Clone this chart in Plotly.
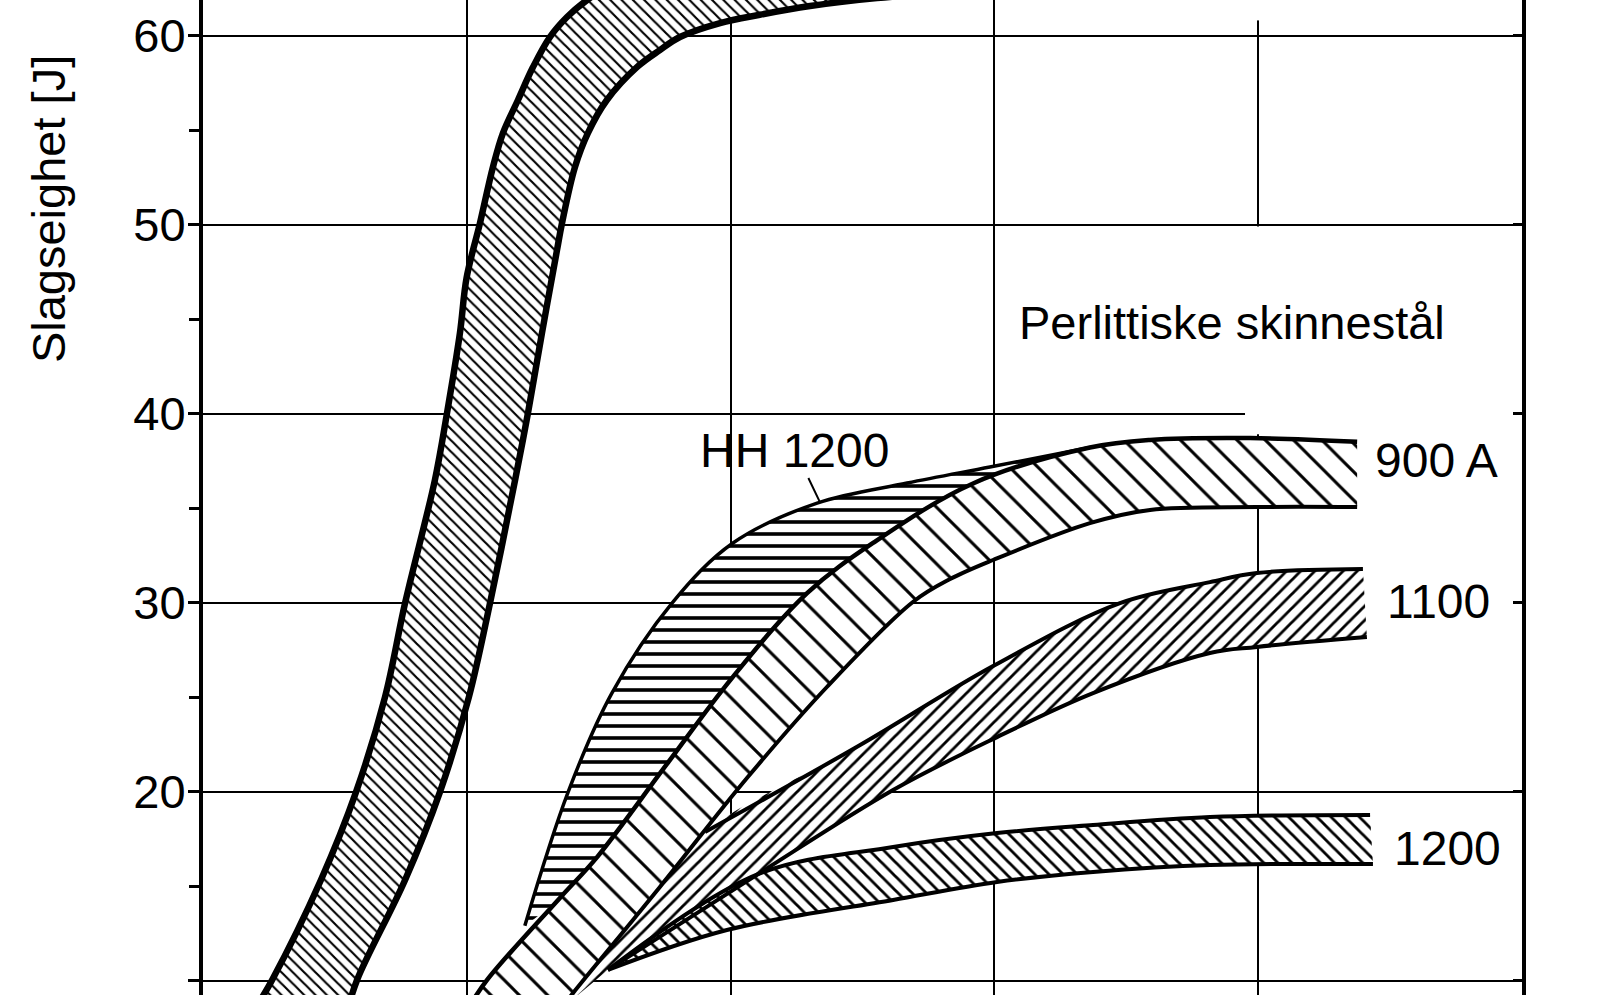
import numpy as np
import plotly.graph_objects as go

# x = position in grid divisions (the temperature axis is cut off in the source),
# y = Slagseighet [J]

# wide band on the left (label outside the crop)
main_left_x = [0.190, 0.262, 0.447, 0.580, 0.690, 0.766, 0.879, 0.925, 0.974, 0.999, 1.050, 1.099, 1.137, 1.194, 1.251, 1.315, 1.380, 1.456, 1.562, 1.732]
main_left_y = [8.33, 10.03, 15.32, 19.97, 25.0, 29.97, 36.48, 40.03, 44.26, 47.17, 50.08, 53.04, 54.84, 56.59, 58.33, 59.92, 60.98, 61.88, 62.78, 63.73]
main_right_x = [0.546, 0.584, 0.766, 0.898, 1.008, 1.088, 1.183, 1.232, 1.285, 1.342, 1.361, 1.410, 1.459, 1.531, 1.645, 1.732, 1.808, 1.960, 2.111, 2.301, 2.555, 2.870, 3.211]
main_right_y = [8.33, 10.03, 15.32, 19.97, 25.0, 29.97, 36.48, 40.03, 44.26, 48.65, 50.08, 53.04, 54.84, 56.59, 58.33, 59.23, 59.92, 60.66, 61.1, 61.56, 61.98, 62.3, 62.5]

# 900 A
a900_up_x = [1.001, 1.077, 1.353, 1.494, 1.759, 2.005, 2.290, 2.540, 2.919, 3.362, 3.590, 3.969, 4.375]
a900_up_y = [8.44, 10.03, 14.37, 16.53, 21.46, 26.0, 30.5, 33.15, 36.3, 38.2, 38.6, 38.7, 38.5]
a900_lo_x = [1.353, 1.403, 1.732, 2.062, 2.365, 2.691, 2.832, 2.995, 3.362, 3.590, 3.995, 4.375]
a900_lo_y = [8.44, 9.34, 14.95, 20.71, 25.53, 30.03, 31.24, 32.25, 34.2, 34.9, 35.05, 35.05]

# HH 1200 (lower edge runs along the 900 A upper edge)
hh_up_x = [1.220, 1.384, 1.550, 1.778, 2.009, 2.328, 2.669, 2.983, 3.362]
hh_up_y = [12.9, 19.97, 25.21, 29.97, 33.15, 35.26, 36.32, 37.17, 38.2]

# 1100 (upper edge follows 900 A lower edge until it splits off)
b1100_up_x = [1.903, 2.491, 2.995, 3.476, 3.817, 3.995, 4.397]
b1100_up_y = [17.86, 22.46, 26.64, 29.97, 31.08, 31.56, 31.77]
b1100_lo_x = [1.535, 2.104, 2.616, 3.010, 3.374, 3.817, 3.995, 4.412]
b1100_lo_y = [10.56, 15.63, 20.08, 22.88, 25.21, 27.33, 27.65, 28.17]

# 1200
c1200_up_x = [1.535, 2.104, 2.616, 3.010, 3.374, 3.817, 4.424]
c1200_up_y = [10.56, 15.63, 17.06, 17.80, 18.23, 18.65, 18.76]
c1200_lo_x = [1.535, 1.986, 2.616, 3.010, 3.374, 3.817, 4.435]
c1200_lo_y = [10.56, 12.67, 14.26, 15.21, 15.74, 16.11, 16.16]

FONT = "Liberation Sans, Arial, Helvetica, sans-serif"

fig = go.Figure()


def band(x_lo, y_lo, x_up, y_up, shape, size, solidity):
    # lower edge (invisible) then upper edge filled down to it
    fig.add_trace(go.Scatter(x=x_lo, y=y_lo, mode="lines",
                             line=dict(width=0, shape="spline", color="black"),
                             hoverinfo="skip", showlegend=False))
    fig.add_trace(go.Scatter(x=x_up, y=y_up, mode="lines", fill="tonexty",
                             fillcolor="white",
                             fillpattern=dict(shape=shape, size=size, solidity=solidity,
                                              fgcolor="black", bgcolor="white", fgopacity=1),
                             line=dict(width=0, shape="spline", color="black"),
                             hoverinfo="skip", showlegend=False))


def edge(x, y, w):
    fig.add_trace(go.Scatter(x=x, y=y, mode="lines",
                             line=dict(width=w, shape="spline", color="black"),
                             hoverinfo="skip", showlegend=False))


# lower edge of the HH band = piece of the 900 A upper edge
a_up_x = np.array(a900_up_x)
a_up_y = np.array(a900_up_y)
m = (a_up_x > hh_up_x[0]) & (a_up_x < hh_up_x[-1])
hh_lo_x = [hh_up_x[0]] + list(a_up_x[m]) + [hh_up_x[-1]]
hh_lo_y = [hh_up_y[0]] + list(a_up_y[m]) + [hh_up_y[-1]]

# full upper edge of the 1100 band
a_lo_x = np.array(a900_lo_x)
a_lo_y = np.array(a900_lo_y)
k = a_lo_x < b1100_up_x[0]
b_up_full_x = list(a_lo_x[k]) + b1100_up_x
b_up_full_y = list(a_lo_y[k]) + b1100_up_y

band(main_left_x, main_left_y, main_right_x, main_right_y, "\\", 8, 0.27)
band(a900_lo_x, a900_lo_y, a900_up_x, a900_up_y, "\\", 20, 0.15)
band(hh_lo_x, hh_lo_y, hh_up_x, hh_up_y, "-", 12, 0.3)
band(b1100_lo_x, b1100_lo_y, b_up_full_x, b_up_full_y, "/", 10, 0.28)
band(c1200_lo_x, c1200_lo_y, c1200_up_x, c1200_up_y, "\\", 10, 0.28)

edge(main_left_x, main_left_y, 6.5)
edge(main_right_x, main_right_y, 6.5)
edge(a900_up_x, a900_up_y, 4.5)
edge(a900_lo_x, a900_lo_y, 4)
edge(hh_up_x, hh_up_y, 3.5)
edge(b1100_up_x, b1100_up_y, 4)
edge(b1100_lo_x, b1100_lo_y, 4)
edge(c1200_up_x, c1200_up_y, 4)
edge(c1200_lo_x, c1200_lo_y, 4)

# keeps the right-hand frame axis alive
fig.add_trace(go.Scatter(x=[0], y=[20], yaxis="y2", mode="markers",
                         marker=dict(opacity=0), hoverinfo="skip", showlegend=False))

y_range = [9.233, 61.88]

fig.update_layout(
    width=1600, height=995,
    margin=dict(l=203, r=78, t=0, b=0),
    paper_bgcolor="white", plot_bgcolor="white",
    font=dict(family=FONT, color="black"),
    showlegend=False,
    xaxis=dict(range=[0, 5], dtick=1, showgrid=True, gridcolor="black", gridwidth=1.5,
               showticklabels=False, ticks="", showline=False, zeroline=False),
    yaxis=dict(range=y_range, tick0=0, dtick=10, showgrid=True, gridcolor="black", gridwidth=2,
               showline=True, linecolor="black", linewidth=4,
               ticks="outside", ticklen=11, tickwidth=3, tickcolor="black",
               minor=dict(dtick=5, ticks="outside", ticklen=10, tickwidth=2.5, tickcolor="black",
                          showgrid=False),
               tickfont=dict(size=47), ticklabelstandoff=-7, zeroline=False),
    yaxis2=dict(range=y_range, overlaying="y", side="right", tick0=0, dtick=10,
                showgrid=False, showline=True, linecolor="black", linewidth=4,
                ticks="inside", ticklen=9, tickwidth=3, tickcolor="black",
                showticklabels=False, zeroline=False),
)

# gaps in the grid around the labels on the right
for gx0, gx1, gy0, gy1 in [(3.95, 5, 40, 40), (4.40, 5, 30, 30),
                           (4, 4, 38.9, 49.9), (4, 4, 60.8, 62)]:
    fig.add_shape(type="line", xref="x", yref="y", x0=gx0, x1=gx1, y0=gy0, y1=gy1,
                  line=dict(color="white", width=5), layer="between")

fig.add_annotation(text="Slagseighet [J]", textangle=-90, xref="paper", yref="y",
                   x=-0.117, y=50.8, showarrow=False, font=dict(size=47),
                   xanchor="center", yanchor="middle")
fig.add_annotation(text="Perlittiske skinnestål", x=3.086, y=44.8, showarrow=False,
                   font=dict(size=47), xanchor="left", yanchor="middle")
fig.add_annotation(text="900 A", x=4.435, y=37.49, showarrow=False,
                   font=dict(size=48), xanchor="left", yanchor="middle")
fig.add_annotation(text="1100", x=4.481, y=30.03, showarrow=False,
                   font=dict(size=48), xanchor="left", yanchor="middle")
fig.add_annotation(text="1200", x=4.507, y=17.01, showarrow=False,
                   font=dict(size=48), xanchor="left", yanchor="middle")
fig.add_annotation(text="HH 1200", x=2.339, y=35.3, ax=2.244, ay=38.07,
                   axref="x", ayref="y", showarrow=True, arrowhead=0, arrowwidth=2,
                   arrowcolor="black", standoff=0, font=dict(size=48))

fig.write_html("out.html", config={"displayModeBar": False},
               post_script="document.body.style.margin='0';")
